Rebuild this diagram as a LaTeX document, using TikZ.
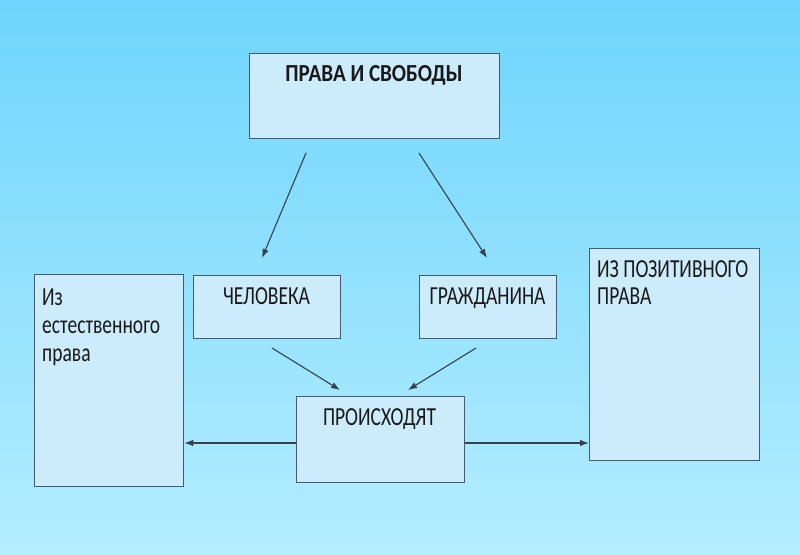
\documentclass[tikz,border=0pt]{standalone}
\usepackage{fontspec}
\setmainfont{Carlito}[FakeStretch=0.75]
\newfontfamily\titlefont{Carlito}[FakeStretch=0.86]
\usetikzlibrary{arrows.meta}
\definecolor{bgtop}{RGB}{110,213,252}
\definecolor{bgbot}{RGB}{180,237,255}
\definecolor{boxfill}{RGB}{205,236,251}
\definecolor{boxline}{RGB}{70,92,110}
\definecolor{arrowc}{RGB}{55,65,75}
\definecolor{txt}{RGB}{25,25,25}
\tikzset{
  box/.style={draw=boxline, line width=1.3pt, fill=boxfill, inner sep=0pt, anchor=north west},
  lbl/.style={text=txt, font=\fontsize{26}{30}\selectfont, inner sep=0pt, anchor=base},
  lbll/.style={lbl, anchor=base west, align=left},
  conn/.style={draw=arrowc, line width=1.1pt, -{Latex[length=9pt,width=6.5pt]}}
}
\begin{document}
\begin{tikzpicture}[x=1pt,y=-1pt]
\shade[top color=bgtop, bottom color=bgbot] (0,0) rectangle (800,554);
\useasboundingbox (0,0) rectangle (800,554);
% boxes
\node[box, minimum width=250pt, minimum height=85pt] (top) at (249,53) {};
\node[box, minimum width=149pt, minimum height=212pt] (nat) at (34,274) {};
\node[box, minimum width=147pt, minimum height=63pt] (man) at (193,275) {};
\node[box, minimum width=137pt, minimum height=63pt] (cit) at (419,275) {};
\node[box, minimum width=168pt, minimum height=86pt] (orig) at (296,396) {};
\node[box, minimum width=170pt, minimum height=212pt] (pos) at (589,248) {};
% texts
\node[lbl, font=\titlefont\fontsize{24.5}{28}\selectfont\bfseries] (ttop) at (374,81) {ПРАВА И СВОБОДЫ};
\node[lbl] (tman) at (266.5,304) {ЧЕЛОВЕКА};
\node[lbl] (tcit) at (487.5,304) {ГРАЖДАНИНА};
\node[lbl] (torig) at (379.5,425) {ПРОИСХОДЯТ};
\node[lbll] (tnat1) at (42,305) {Из};
\node[lbll] (tnat2) at (42,333) {естественного};
\node[lbll] (tnat3) at (42,361) {права};
\node[lbll] (tpos1) at (597,277) {ИЗ ПОЗИТИВНОГО};
\node[lbll] (tpos2) at (597,304) {ПРАВА};
% connector ends
\coordinate (a1s) at (306,153); \coordinate (a1e) at (262,258);
\coordinate (a2s) at (419,153); \coordinate (a2e) at (487,258);
\coordinate (a3s) at (272,348); \coordinate (a3e) at (340,390);
\coordinate (a4s) at (476,348); \coordinate (a4e) at (408,390);
\draw[conn] (a1s) -- (a1e);
\draw[conn] (a2s) -- (a2e);
\draw[conn] (a3s) -- (a3e);
\draw[conn] (a4s) -- (a4e);
\draw[conn] (orig.west |- 0,443) -- (nat.east |- 0,443);
\draw[conn] (orig.east |- 0,443) -- (pos.west |- 0,443);
\end{tikzpicture}
\end{document}
